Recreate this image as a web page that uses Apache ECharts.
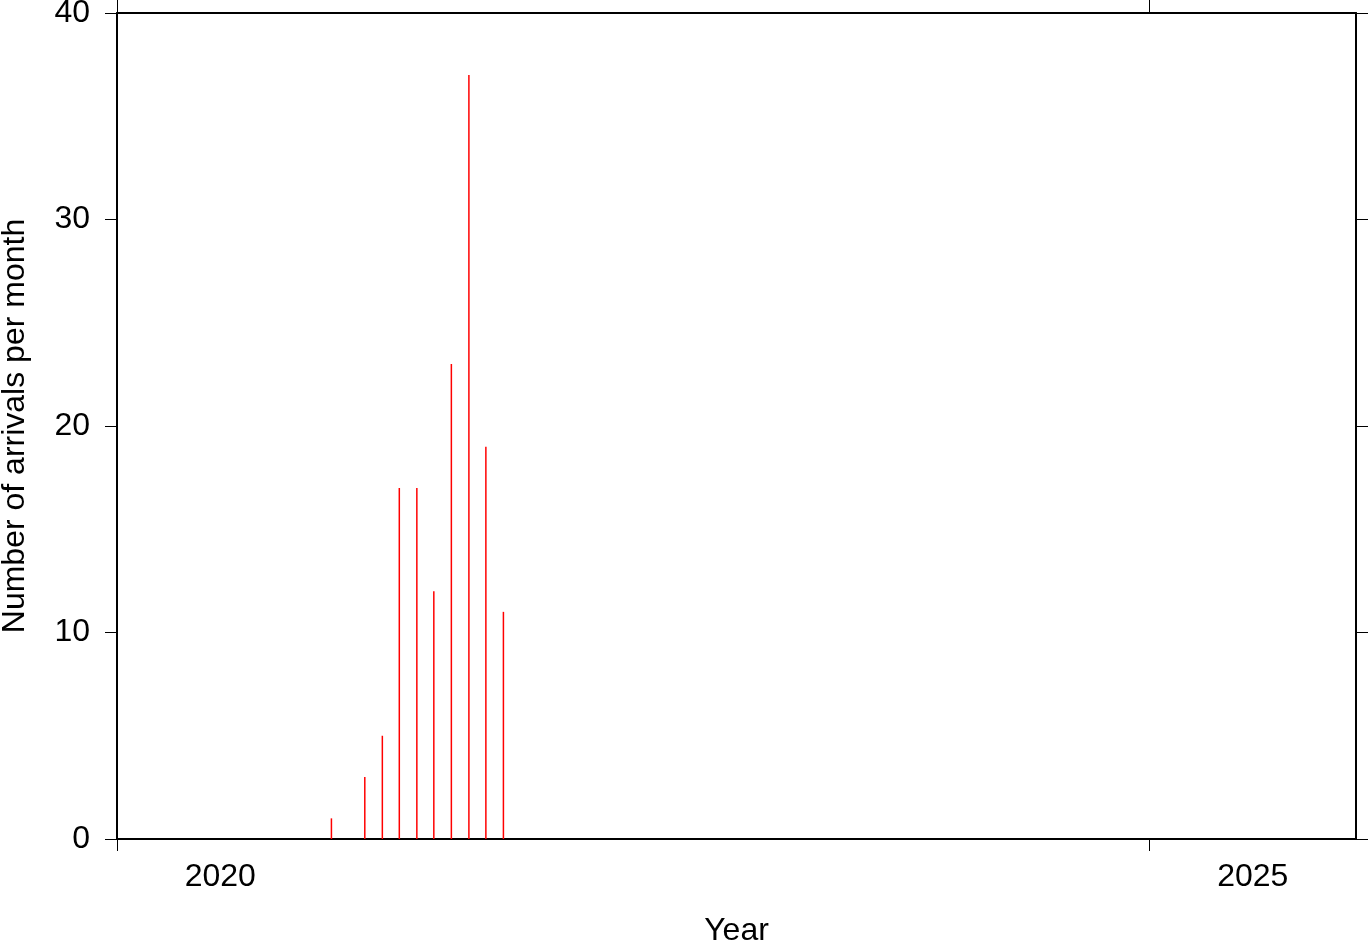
<!DOCTYPE html>
<html>
<head>
<meta charset="utf-8">
<script src="https://cdn.jsdelivr.net/npm/echarts@6/dist/echarts.min.js"></script>
<style>
html,body{margin:0;padding:0;background:#fff;}
#chart{width:1369px;height:942px;}
</style>
</head>
<body>
<div id="chart"></div>
<script>
// Data: arrivals per month (bars drawn at the 15th of each month)
const months = ['2021-01','2021-02','2021-03','2021-04','2021-05','2021-06','2021-07','2021-08','2021-09','2021-10','2021-11'];
const arrivals = [1, 0, 3, 5, 17, 17, 12, 23, 37, 19, 11];
const xTickYears = [2020, 2025];
const xLabelYears = [2020, 2025];
const yTicks = [0, 10, 20, 30, 40];

function decimalYear(ym) {
  const [y, m] = ym.split('-').map(Number);
  const start = Date.UTC(y, 0, 1);
  const end = Date.UTC(y + 1, 0, 1);
  const d = Date.UTC(y, m - 1, 15);
  return y + (d - start) / (end - start);
}
const seriesData = months.map((m, i) => [decimalYear(m), arrivals[i]]);

const FONT = '"Liberation Sans", Arial, Helvetica, sans-serif';
const FS = 32;
const lineStyle = { color: '#000', width: 2 };
const tickStyle = { color: '#000', width: 1 };

const chart = echarts.init(document.getElementById('chart'), null, { renderer: 'canvas' });
chart.setOption({
  animation: false,
  backgroundColor: '#fff',
  grid: { left: 117, right: 13, top: 13, bottom: 103, containLabel: false, outerBoundsMode: 'none' },
  xAxis: [
    {
      type: 'value', position: 'bottom', min: 2020, max: 2026,
      name: 'Year', nameLocation: 'middle', nameGap: 76,
      nameTextStyle: { fontFamily: FONT, fontSize: FS, color: '#000' },
      axisLine: { show: true, onZero: false, lineStyle: lineStyle },
      axisTick: { show: true, inside: false, length: 12, lineStyle: tickStyle, customValues: xTickYears },
      axisLabel: { show: true, margin: 22, fontFamily: FONT, fontSize: FS, color: '#000',
        customValues: xLabelYears.map(v => v + 0.5),
        formatter: v => String(Math.floor(v)) },
      splitLine: { show: false }
    },
    {
      type: 'value', position: 'top', min: 2020, max: 2026,
      axisLine: { show: true, onZero: false, lineStyle: lineStyle },
      axisTick: { show: true, inside: false, length: 13, lineStyle: tickStyle, customValues: xTickYears },
      axisLabel: { show: false },
      splitLine: { show: false }
    }
  ],
  yAxis: [
    {
      type: 'value', position: 'left', min: 0, max: 40, interval: 10,
      name: 'Number of arrivals per month', nameLocation: 'middle', nameGap: 86, nameRotate: 90,
      nameTextStyle: { fontFamily: FONT, fontSize: FS, color: '#000' },
      axisLine: { show: true, onZero: false, lineStyle: lineStyle },
      axisTick: { show: true, inside: false, length: 12, lineStyle: tickStyle, customValues: yTicks },
      axisLabel: { show: true, margin: 27, fontFamily: FONT, fontSize: FS, color: '#000', customValues: yTicks },
      splitLine: { show: false }
    },
    {
      type: 'value', position: 'right', min: 0, max: 40, interval: 10,
      axisLine: { show: true, onZero: false, lineStyle: lineStyle },
      axisTick: { show: true, inside: false, length: 12, lineStyle: tickStyle, customValues: yTicks },
      axisLabel: { show: false },
      splitLine: { show: false }
    }
  ],
  series: [
    {
      type: 'bar', xAxisIndex: 0, yAxisIndex: 0,
      data: seriesData,
      barWidth: 1.5,
      itemStyle: { color: '#ff0000' },
      silent: true
    }
  ]
});
</script>
</body>
</html>
